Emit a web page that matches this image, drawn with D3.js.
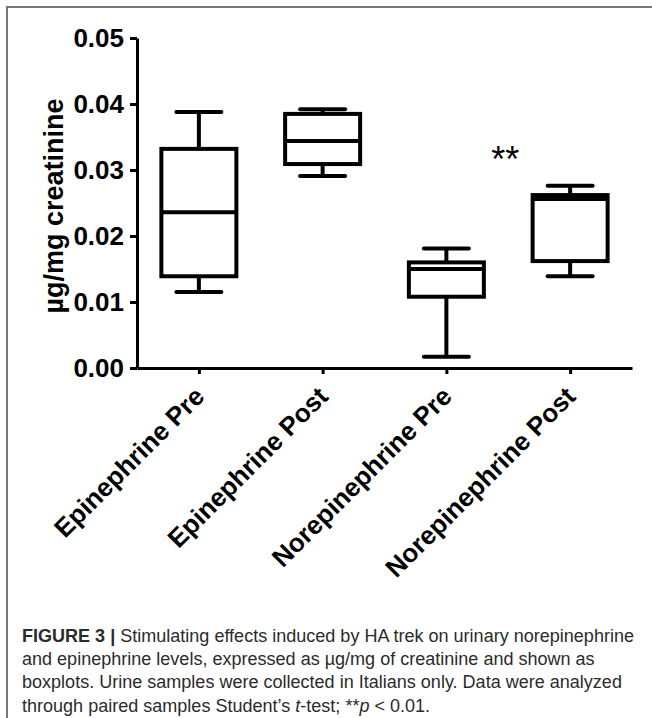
<!DOCTYPE html>
<html lang="en">
<head>
    <meta charset="UTF-8">
    <title>Figure 3</title>
    <style>
        body { margin: 0; background: #fff; }
        svg { display: block; }
    </style>
</head>
<body>
    <div class="canvas"></div>

    <script src="https://cdnjs.cloudflare.com/ajax/libs/d3/7.8.5/d3.min.js"></script>

    <script>
        // values (ug/mg creatinine)
        const categories = ["Epinephrine Pre", "Epinephrine Post", "Norepinephrine Pre", "Norepinephrine Post"];
        const whiskerLow  = [0.0115, 0.0291, 0.0017, 0.0139];
        const q1          = [0.0139, 0.0309, 0.0108, 0.0162];
        const median      = [0.0236, 0.0344, 0.0150, 0.0256];
        const q3          = [0.0332, 0.0385, 0.0160, 0.0262];
        const whiskerHigh = [0.0388, 0.0392, 0.0181, 0.0276];
        const yTicks = [0, 0.01, 0.02, 0.03, 0.04, 0.05];
        const yTitle = "µg/mg creatinine";
        const sigLabel = "**";

        const caption = [
            [{ t: "FIGURE 3 | ", w: "bold" }, { t: "Stimulating effects induced by HA trek on urinary norepinephrine" }],
            [{ t: "and epinephrine levels, expressed as µg/mg of creatinine and shown as" }],
            [{ t: "boxplots. Urine samples were collected in Italians only. Data were analyzed" }],
            [{ t: "through paired samples Student’s " }, { t: "t", i: true }, { t: "-test; **" }, { t: "p", i: true }, { t: " < 0.01." }]
        ];

        const boxes = categories.map((c, i) => ({
            name: c, lo: whiskerLow[i], q1: q1[i], med: median[i], q3: q3[i], hi: whiskerHigh[i]
        }));

        const W = 652, H = 718;
        const font = "'Liberation Sans', Arial, Helvetica, sans-serif";

        const svg = d3.select(".canvas").append("svg")
            .attr("width", W)
            .attr("height", H);

        // frame (left and top border of the figure panel)
        svg.append("path")
            .attr("d", `M7,${H} V7 H${W}`)
            .attr("fill", "none")
            .attr("stroke", "#777")
            .attr("stroke-width", 2);

        const x = d3.scalePoint()
            .domain(categories)
            .range([137, 632])
            .padding(0.5);

        const y = d3.scaleLinear()
            .domain([0, 0.05])
            .range([368, 38]);

        const boxW = 75, capW = 45;

        // y axis
        const yAxis = svg.append("g")
            .attr("transform", "translate(137,0)")
            .call(d3.axisLeft(y).tickValues(yTicks).tickFormat(d3.format(".2f")).tickSize(7).tickSizeOuter(0).tickPadding(6));

        // x axis
        const xAxis = svg.append("g")
            .attr("transform", "translate(0,368)")
            .call(d3.axisBottom(x).tickSize(6).tickSizeOuter(0).tickFormat(""));

        [yAxis, xAxis].forEach(g => {
            g.select(".domain").attr("stroke", "#000").attr("stroke-width", 3);
            g.selectAll(".tick line").attr("stroke", "#000").attr("stroke-width", 3);
        });

        yAxis.selectAll(".tick text")
            .attr("font-family", font)
            .attr("font-weight", "bold")
            .attr("font-size", 26)
            .attr("fill", "#000");

        // rotated category labels
        svg.append("g")
            .selectAll("text")
            .data(categories)
            .join("text")
                .attr("transform", d => `translate(${x(d) + 7},398) rotate(-45)`)
                .attr("text-anchor", "end")
                .attr("font-family", font)
                .attr("font-weight", "bold")
                .attr("font-size", 26)
                .attr("fill", "#000")
                .text(d => d);

        // y title
        svg.append("text")
            .attr("transform", `translate(63,${(y(0) + y(0.05)) / 2 + 3}) rotate(-90)`)
            .attr("text-anchor", "middle")
            .attr("font-family", font)
            .attr("font-weight", "bold")
            .attr("font-size", 27)
            .text(yTitle);

        // boxplots
        const g = svg.append("g")
            .attr("stroke", "#000")
            .attr("stroke-width", 4)
            .attr("fill", "none");

        const bp = g.selectAll("g.box")
            .data(boxes)
            .join("g")
                .attr("class", "box");

        bp.append("line")
            .attr("x1", d => x(d.name)).attr("x2", d => x(d.name))
            .attr("y1", d => y(d.hi)).attr("y2", d => y(d.q3));
        bp.append("line")
            .attr("x1", d => x(d.name)).attr("x2", d => x(d.name))
            .attr("y1", d => y(d.q1)).attr("y2", d => y(d.lo));
        bp.append("line")
            .attr("x1", d => x(d.name) - capW / 2).attr("x2", d => x(d.name) + capW / 2)
            .attr("y1", d => y(d.hi)).attr("y2", d => y(d.hi))
            .attr("stroke-linecap", "round");
        bp.append("line")
            .attr("x1", d => x(d.name) - capW / 2).attr("x2", d => x(d.name) + capW / 2)
            .attr("y1", d => y(d.lo)).attr("y2", d => y(d.lo))
            .attr("stroke-linecap", "round");
        bp.append("rect")
            .attr("x", d => x(d.name) - boxW / 2)
            .attr("width", boxW)
            .attr("y", d => y(d.q3))
            .attr("height", d => y(d.q1) - y(d.q3))
            .attr("fill", "#fff");
        bp.append("line")
            .attr("x1", d => x(d.name) - boxW / 2).attr("x2", d => x(d.name) + boxW / 2)
            .attr("y1", d => y(d.med)).attr("y2", d => y(d.med));

        // significance marker between the norepinephrine boxes
        svg.append("text")
            .attr("x", (x(categories[2]) + x(categories[3])) / 2 - 3)
            .attr("y", 172)
            .attr("text-anchor", "middle")
            .attr("font-family", font)
            .attr("font-size", 36)
            .attr("fill", "#000")
            .text(sigLabel);

        // caption
        const cap = svg.append("g")
            .attr("font-family", font)
            .attr("font-size", 17.5)
            .attr("fill", "#2b2b2b");

        const lines = cap.selectAll("text")
            .data(caption)
            .join("text")
                .attr("x", 22)
                .attr("y", (d, i) => 642 + i * 23.2);

        lines.selectAll("tspan")
            .data(d => d)
            .join("tspan")
                .attr("font-weight", d => d.w || null)
                .attr("font-style", d => d.i ? "italic" : null)
                .text(d => d.t);

        // squeeze caption to the narrow face used in the print layout
        const first = lines.node().getComputedTextLength();
        const k = 612 / first;
        lines.each(function () {
            const len = this.getComputedTextLength();
            d3.select(this)
                .attr("textLength", len * k)
                .attr("lengthAdjust", "spacingAndGlyphs");
        });
    </script>
</body>
</html>
